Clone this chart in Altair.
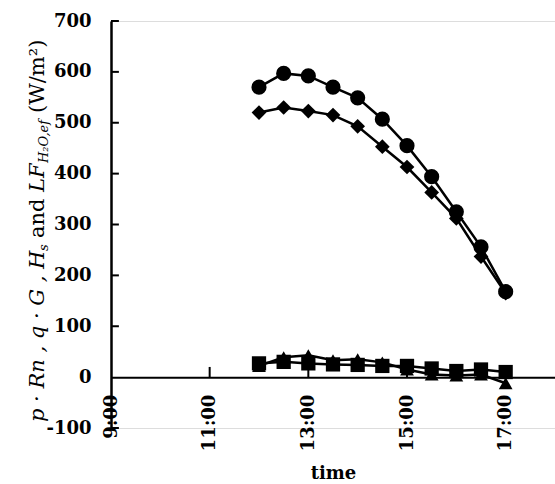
import altair as alt
import pandas as pd

# Measurement times (hours of the day)
times = [12.0, 12.5, 13.0, 13.5, 14.0, 14.5, 15.0, 15.5, 16.0, 16.5, 17.0]

# Energy fluxes (W/m^2)
p_rn = [570, 597, 592, 570, 549, 507, 455, 394, 325, 256, 168]
lf_h2o = [520, 530, 523, 515, 493, 453, 413, 363, 312, 237, 165]
q_g = [27, 30, 27, 25, 24, 22, 22, 17, 12, 15, 10]
h_s = [22, 39, 43, 33, 35, 29, 15, 5, 3, 5, -12]

series_names = ["p·Rn", "LF_H2O,ef", "q·G", "H_s"]
series_shapes = ["circle", "diamond", "square", "triangle-up"]
series_sizes = [230, 190, 210, 190]

hour_ticks = [9, 11, 13, 15, 17]
inner_hour_ticks = [11, 13, 15, 17]
flux_ticks = [-100, 0, 100, 200, 300, 400, 500, 600, 700]
inner_flux_ticks = [-100, 100, 200, 300, 400, 500, 600, 700]

FONT = "DejaVu Serif"
W, H = 444, 407

rows = []
for name, vals in zip(series_names, [p_rn, lf_h2o, q_g, h_s]):
    for t, v in zip(times, vals):
        rows.append({"time": t, "flux": v, "series": name})
df = pd.DataFrame(rows)

x_scale = alt.Scale(domain=[9, 18], nice=False, zero=False)
y_scale = alt.Scale(domain=[-100, 700], nice=False, zero=False)
# the time axis is drawn along flux = 0
zero_offset = -(H - H * 700 / 800)

x_enc = alt.X(
    "time:Q",
    scale=x_scale,
    axis=alt.Axis(
        values=hour_ticks,
        labelExpr="datum.value + ':00'",
        labelAngle=270,
        labelFlush=False,
        labelFont=FONT,
        labelFontSize=18,
        labelFontWeight="bold",
        labelColor="black",
        labelPadding=17,
        ticks=False,
        grid=False,
        offset=zero_offset,
        domainColor="black",
        domainWidth=2,
        title="time",
        titleFont=FONT,
        titleFontSize=18,
        titleFontWeight="bold",
        titleColor="black",
        titlePadding=14,
    ),
)
y_enc = alt.Y(
    "flux:Q",
    scale=y_scale,
    axis=alt.Axis(
        values=flux_ticks,
        labelExpr="datum.value < 0 ? '-' + (-datum.value) : '' + datum.value",
        labelFont=FONT,
        labelFontSize=18,
        labelFontWeight="bold",
        labelColor="black",
        labelPadding=20,
        ticks=False,
        grid=False,
        domainColor="black",
        domainWidth=2.5,
        title=None,
    ),
)

lines = alt.Chart(df).mark_line(color="black", strokeWidth=2.5).encode(
    x=x_enc, y=y_enc, detail="series:N"
)

points = alt.Chart(df).mark_point(filled=True, color="black", opacity=1).encode(
    x=alt.X("time:Q", scale=x_scale),
    y=alt.Y("flux:Q", scale=y_scale),
    shape=alt.Shape("series:N", scale=alt.Scale(domain=series_names, range=series_shapes), legend=None),
    size=alt.Size("series:N", scale=alt.Scale(domain=series_names, range=series_sizes), legend=None),
    order=alt.Order("draw:Q"),
).transform_calculate(
    draw="indexof(['H_s','q·G','LF_H2O,ef','p·Rn'], datum.series)"
)

# Inward tick marks on both axes
xt = alt.Chart(pd.DataFrame({"t": inner_hour_ticks, "y0": 0, "y1": 20})).mark_rule(
    color="black", strokeWidth=2
).encode(x=alt.X("t:Q", scale=x_scale), y=alt.Y("y0:Q", scale=y_scale), y2="y1:Q")
yt = alt.Chart(pd.DataFrame({"v": inner_flux_ticks, "x0": 9, "x1": 9.16})).mark_rule(
    color="black", strokeWidth=2
).encode(y=alt.Y("v:Q", scale=y_scale), x=alt.X("x0:Q", scale=x_scale), x2="x1:Q")

# Y-axis title built from italic, roman and subscript pieces, read bottom to top
one = pd.DataFrame({"k": [0]})
MAIN, SUB = 21, 13


def piece(text, ypos, size=MAIN, style="italic", xpos=-67):
    return alt.Chart(one).mark_text(
        angle=270, align="left", baseline="alphabetic", font=FONT,
        fontSize=size, fontStyle=style, color="black",
    ).encode(x=alt.value(xpos), y=alt.value(ypos), text=alt.value(text))


title_parts = [
    piece("p · Rn , q · G , H", 401),
    piece("s", 230, size=SUB, xpos=-63),
    piece("and", 217, style="normal"),
    piece("LF", 171),
    piece("H₂O,ef", 142, size=SUB, xpos=-63),
    piece("(W/m²)", 92, style="normal"),
]

chart = alt.layer(lines, xt, yt, points, *title_parts).properties(
    width=W,
    height=H,
    padding={"left": 111, "top": 21, "right": 0, "bottom": 56},
    autosize=alt.AutoSizeParams(type="none"),
).configure_view(stroke=None).configure(background="white")

chart.save("out.html", embed_options={"renderer": "svg", "actions": False})
